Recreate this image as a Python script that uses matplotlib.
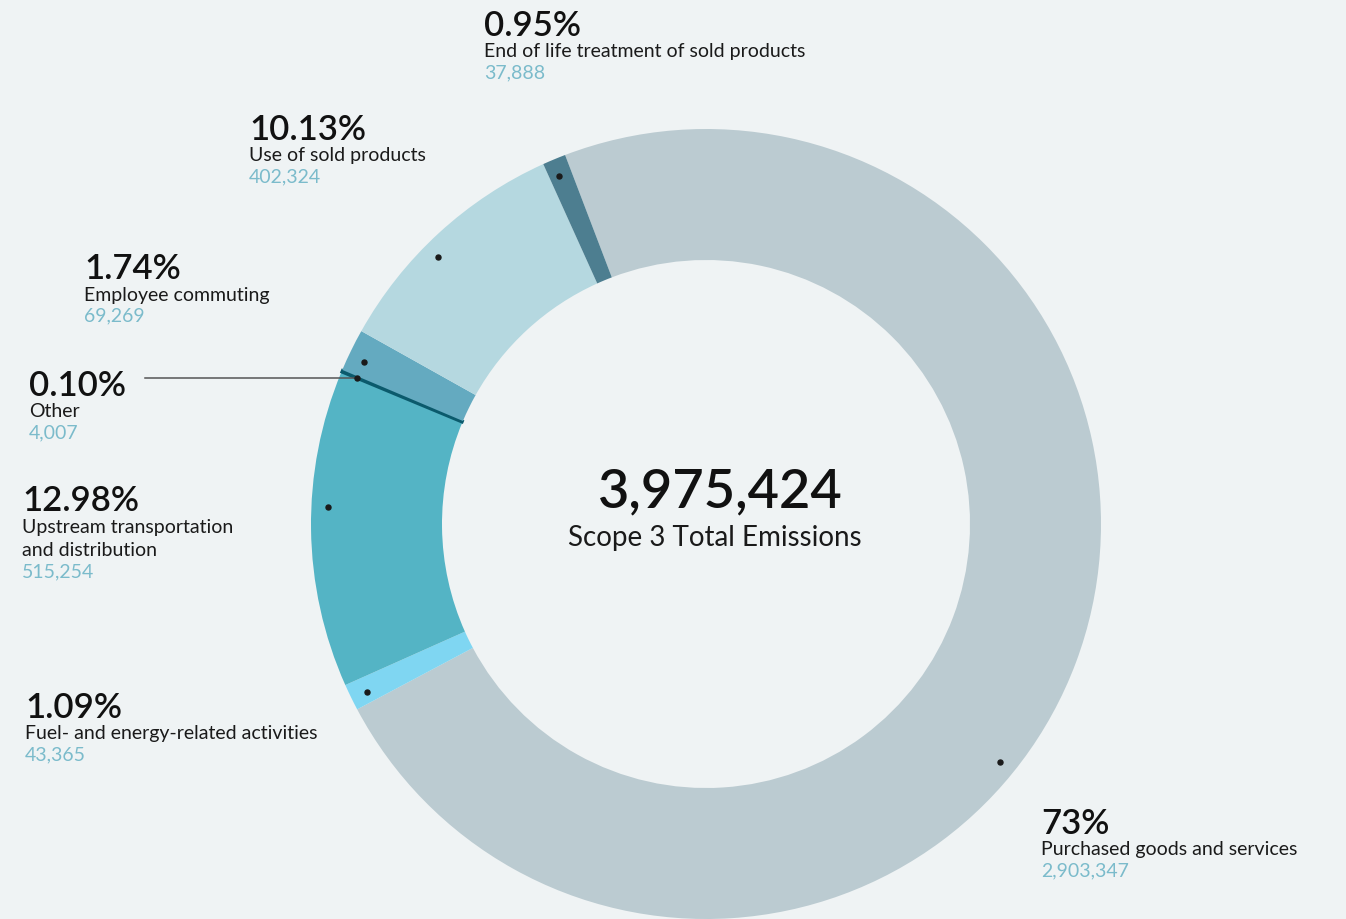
import numpy as np
import matplotlib
matplotlib.use("Agg")
import matplotlib.pyplot as plt

# Scope 3 emission categories (tCO2e), clockwise from the top
categories = [
    "Purchased goods and services",
    "Fuel- and energy-related activities",
    "Upstream transportation\nand distribution",
    "Other",
    "Employee commuting",
    "Use of sold products",
    "End of life treatment of sold products",
]
values = [2903347, 43365, 515254, 4007, 69269, 402324, 37888]
pct_labels = ["73%", "1.09%", "12.98%", "0.10%", "1.74%", "10.13%", "0.95%"]
value_labels = ["2,903,347", "43,365", "515,254", "4,007", "69,269", "402,324", "37,888"]
total_label = "3,975,424"
center_caption = "Scope 3 Total Emissions"

colors = ["#BBCBD1", "#7FD6F2", "#54B4C5", "#0B5A6C", "#64AAC0", "#B5D8E0", "#4D7E90"]
bg = "#EFF3F4"
value_color = "#7BBBCB"

# where along each wedge the marker dot sits (fraction of the wedge sweep)
dot_frac = [0.57, 0.4, 0.57, 0.5, 0.38, 0.43, 0.4]

# label blocks: left x, y of the percentage line (pixels from top)
label_pos = [
    (1041, 824), (25, 708), (22, 501), (29, 386), (84, 269), (249, 130), (484, 26),
]

W, H = 1346, 920
plt.rcParams["font.family"] = ["Lato", "DejaVu Sans"]
fig = plt.figure(figsize=(W / 100, H / 100), dpi=100, facecolor=bg)
ax = fig.add_axes([0, 0, 1, 1])
ax.set_facecolor(bg)

cx, cy = 706, H - 525
r_out, r_in = 395, 264
start = 110.9

wedges, _ = ax.pie(
    values, colors=colors, startangle=start, counterclock=False,
    center=(cx, cy), radius=r_out, frame=True,
    wedgeprops=dict(width=r_out - r_in, linewidth=0),
)
# the hairline "Other" wedge gets an outline in its own colour so it stays visible
wedges[3].set_edgecolor(colors[3])
wedges[3].set_linewidth(1.6)

ax.set_xlim(0, W)
ax.set_ylim(0, H)
ax.set_aspect("equal")
ax.axis("off")

# marker dots near the outer rim of every wedge
total = sum(values)
cum = 0.0
dots = []
for v, f in zip(values, dot_frac):
    a0 = start - 360.0 * cum / total
    sweep = 360.0 * v / total
    ang = np.deg2rad(a0 - f * sweep)
    r_dot = 378
    dx, dy = cx + r_dot * np.cos(ang), cy + r_dot * np.sin(ang)
    dots.append((dx, dy))
    ax.plot(dx, dy, "o", color="#1a1a1a", markersize=3.6, zorder=5)
    cum += v

# leader line for the thin "Other" wedge
ox, oy = dots[3]
ax.plot([145, ox], [oy, oy], color="#555555", linewidth=1.1, zorder=4)

# label blocks
for (x, y), pct, name, val in zip(label_pos, pct_labels, categories, value_labels):
    ax.text(x, H - y, pct, fontsize=25, fontweight="semibold", color="#111111",
            ha="left", va="center")
    ly = y + 26
    for line in name.split("\n"):
        ax.text(x, H - ly, line, fontsize=14, color="#1a1a1a",
                ha="left", va="center")
        ly += 24
    ax.text(x, H - (ly - 3), val, fontsize=14, color=value_color,
            ha="left", va="center")

# centre total
ax.text(cx + 14, H - 492, total_label, fontsize=39, fontweight="semibold",
        color="#111111", ha="center", va="center")
ax.text(cx + 9, H - 538, center_caption, fontsize=20, color="#1a1a1a",
        ha="center", va="center")

fig.savefig("out.png", dpi=100, facecolor=bg)
